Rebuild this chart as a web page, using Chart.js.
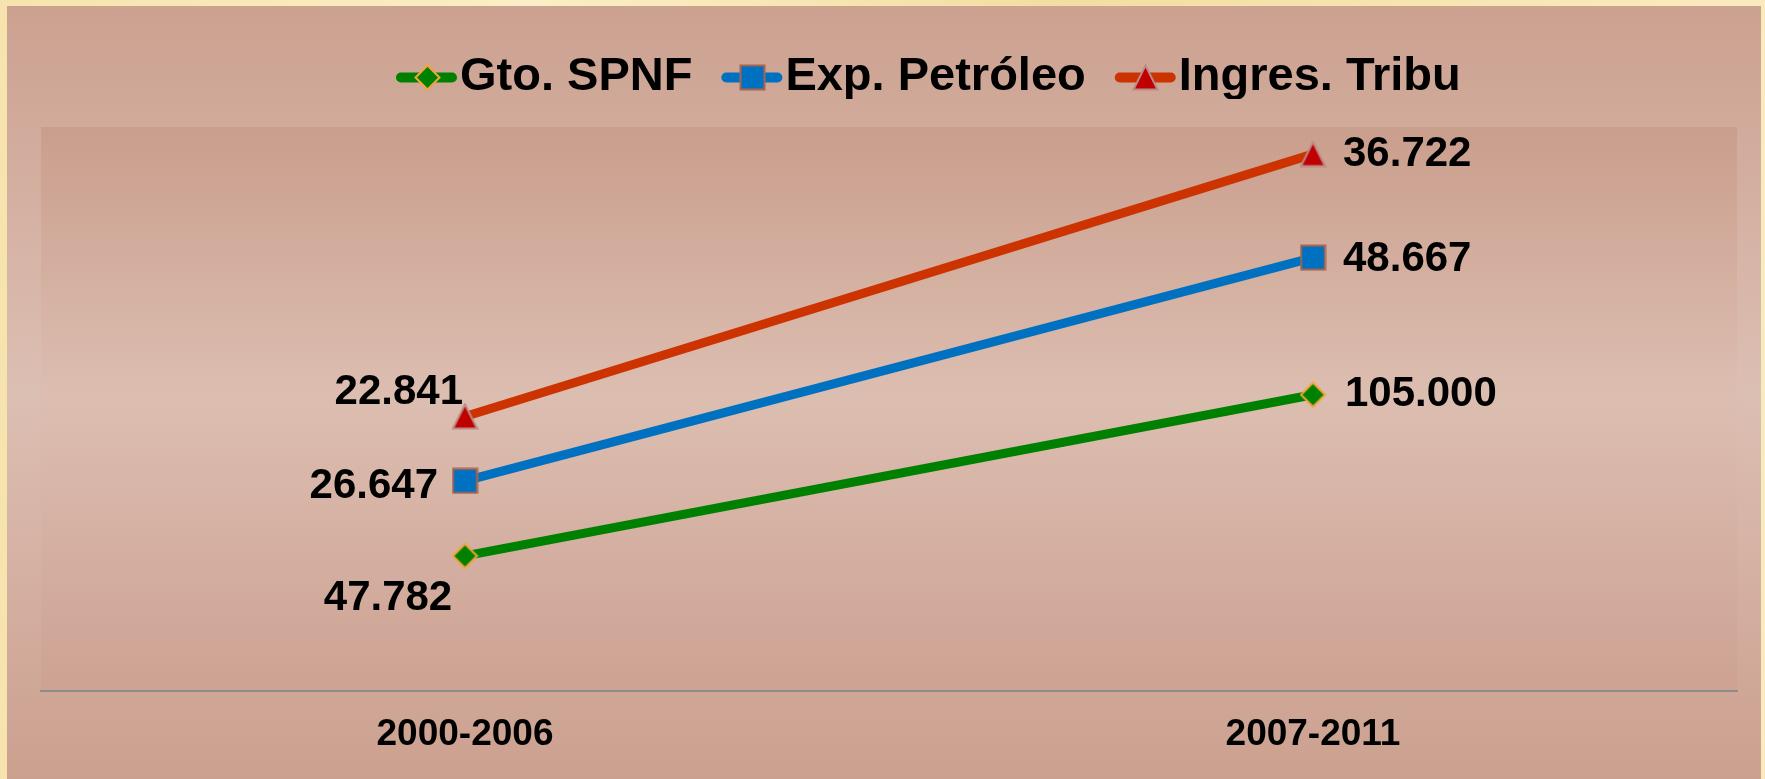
<!DOCTYPE html>
<html lang="es">
<head>
<meta charset="UTF-8">
<title>Gto. SPNF, Exp. Petróleo, Ingres. Tribu</title>
<script src="https://cdn.jsdelivr.net/npm/chart.js"></script>
<style>
	html, body { margin: 0; padding: 0; }
	body {
		width: 1765px; height: 779px; overflow: hidden;
		background: linear-gradient(90deg, #f6e3ad, #fbeec6 30%, #f3dda2 60%, #faebbf);
	}
	#chartBox { position: absolute; left: 7px; top: 6px; width: 1754px; height: 773px; }
</style>
</head>
<body>

<div id="chartBox">
	<canvas id="myChart"></canvas>
</div>

<script>
// data (stacked line chart)
var categories = ['2000-2006', '2007-2011'];
var seriesNames = ['Gto. SPNF', 'Exp. Petróleo', 'Ingres. Tribu'];
var gtoSpnf = [47.782, 105.000];
var expPetroleo = [26.647, 48.667];
var ingresTribu = [22.841, 36.722];

var FONT = '"Liberation Sans", Arial, sans-serif';

// little canvases used as point markers (chart and legend)
function makeMarker(shape, size, fill, stroke, lw) {
	var c = document.createElement('canvas');
	c.width = size; c.height = size;
	var g = c.getContext('2d');
	var p = lw / 2 + 0.5, s = size;
	g.beginPath();
	if (shape === 'diamond') {
		g.moveTo(s / 2, p); g.lineTo(s - p, s / 2); g.lineTo(s / 2, s - p); g.lineTo(p, s / 2);
	} else if (shape === 'square') {
		g.rect(p, p, s - 2 * p, s - 2 * p);
	} else {
		g.moveTo(s / 2, p); g.lineTo(s - p, s - p); g.lineTo(p, s - p);
	}
	g.closePath();
	g.fillStyle = fill; g.fill();
	g.lineWidth = lw; g.strokeStyle = stroke; g.stroke();
	return c;
}

var markers = [
	makeMarker('diamond', 27, '#008000', '#F2A33A', 2),
	makeMarker('square', 27, '#0070C0', '#A8644F', 2),
	makeMarker('triangle', 27, '#C00000', '#B98A86', 2)
];
var lineColors = ['#008000', '#0070C0', '#CC3300'];

// where each value label sits next to its point [dx, dy, align]
var labelPlace = [
	[[-77, 42, 'center'], [32, 0, 'left']],
	[[-27, 6, 'right'], [30, 2, 'left']],
	[[-2, -24, 'right'], [30, 0, 'left']]
];

var backgroundPlugin = {
	id: 'backgroundPlugin',
	beforeDraw: function(chart) {
		var ctx = chart.ctx, a = chart.chartArea;
		ctx.save();
		var g = ctx.createLinearGradient(0, 0, 0, chart.height);
		g.addColorStop(0, '#cca190');
		g.addColorStop(0.5, '#dcbfb3');
		g.addColorStop(1, '#cca08f');
		ctx.fillStyle = g;
		ctx.fillRect(0, 0, chart.width, chart.height);
		var g2 = ctx.createLinearGradient(0, a.top, 0, a.bottom);
		g2.addColorStop(0, '#ca9e8c');
		g2.addColorStop(0.48, '#dcbeb1');
		g2.addColorStop(1, '#cda293');
		ctx.fillStyle = g2;
		ctx.fillRect(a.left, a.top, a.right - a.left, a.bottom - a.top);
		ctx.restore();
	}
};

// legend drawn by hand: line + marker + name, clipped like the original
var legendPlugin = {
	id: 'legendPlugin',
	afterDraw: function(chart) {
		var ctx = chart.ctx;
		ctx.save();
		ctx.beginPath();
		ctx.rect(0, 0, chart.width, 93);
		ctx.clip();
		ctx.font = 'bold 47px ' + FONT;
		ctx.textBaseline = 'middle';
		var x = 389, y = 71.5;
		for (var i = 0; i < seriesNames.length; i++) {
			ctx.strokeStyle = lineColors[i];
			ctx.lineWidth = 10;
			ctx.lineCap = 'round';
			ctx.beginPath();
			ctx.moveTo(x + 5, y);
			ctx.lineTo(x + 56, y);
			ctx.stroke();
			var m = markers[i];
			ctx.drawImage(m, Math.round(x + 31 - m.width / 2), Math.round(y - m.height / 2));
			ctx.fillStyle = '#000';
			ctx.fillText(seriesNames[i], x + 64, y);
			x = x + 64 + ctx.measureText(seriesNames[i]).width + 29;
		}
		ctx.restore();
	}
};

var valueLabels = {
	id: 'valueLabels',
	afterDatasetsDraw: function(chart) {
		var ctx = chart.ctx;
		ctx.save();
		ctx.font = 'bold 42px ' + FONT;
		ctx.fillStyle = '#000';
		ctx.textBaseline = 'middle';
		chart.data.datasets.forEach(function(ds, di) {
			var meta = chart.getDatasetMeta(di);
			meta.data.forEach(function(pt, i) {
				var pl = labelPlace[di][i];
				ctx.textAlign = pl[2];
				ctx.fillText(ds.data[i].toFixed(3), pt.x + pl[0], pt.y + pl[1]);
			});
		});
		ctx.restore();
	}
};

var chartCtx = document.getElementById('myChart').getContext('2d');
var seriesValues = [gtoSpnf, expPetroleo, ingresTribu];

var myChart = new Chart(chartCtx, {
	type: 'line',
	data: {
		labels: categories,
		datasets: seriesValues.map(function(vals, i) {
			return {
				label: seriesNames[i],
				data: vals,
				borderColor: lineColors[i],
				borderWidth: 9,
				fill: false,
				tension: 0,
				pointStyle: markers[i],
				pointRadius: 13,
				pointHoverRadius: 13
			};
		})
	},
	options: {
		responsive: true,
		maintainAspectRatio: false,
		animation: false,
		layout: { padding: { top: 121, left: 34, right: 24, bottom: 0 } },
		plugins: {
			legend: { display: false },
			tooltip: { enabled: false }
		},
		scales: {
			x: {
				offset: true,
				grid: { display: false, drawTicks: false },
				border: { display: true, color: '#8c8c8c', width: 2 },
				ticks: {
					color: '#000',
					padding: 22,
					font: { family: FONT, size: 37, weight: 'bold' }
				}
			},
			y: {
				stacked: true,
				min: 0,
				max: 200,
				display: false
			}
		}
	},
	plugins: [backgroundPlugin, legendPlugin, valueLabels]
});
</script>

</body>
</html>
